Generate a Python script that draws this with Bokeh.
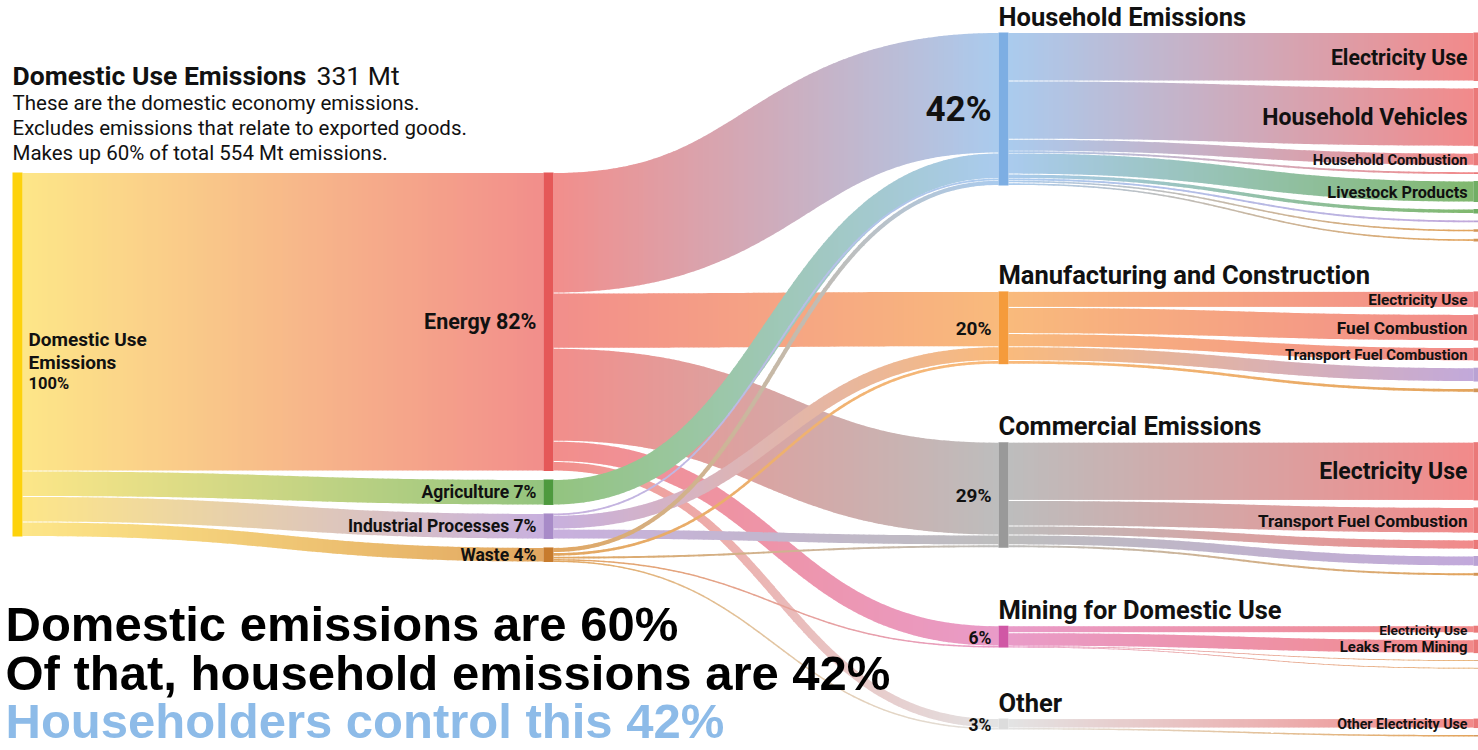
import numpy as np
from bokeh.plotting import figure
from bokeh.models import Range1d
from bokeh.embed import file_html
from bokeh.resources import INLINE
from bokeh.core.properties import value

# ---------------- data (percent of domestic-use emissions) ----------------
root_label = ["Domestic Use", "Emissions"]
root_mt = 331
root_pct = 100

sectors = ["Energy", "Agriculture", "Industrial Processes", "Waste"]
sector_pct = [82, 7, 7, 4]

destinations = ["Household Emissions", "Manufacturing and Construction",
                "Commercial Emissions", "Mining for Domestic Use", "Other"]
dest_pct = [42, 20, 29, 6, 3]

# sector -> destination flows (same order as destinations)
flow_energy = [33.1, 15.2, 25.5, 5.6, 2.6]
flow_agriculture = [7.0, 0.0, 0.0, 0.0, 0.0]
flow_industrial = [0.5, 3.8, 2.7, 0.0, 0.0]
flow_waste = [1.4, 1.0, 0.8, 0.4, 0.4]
flows = [flow_energy, flow_agriculture, flow_industrial, flow_waste]

# destination -> end use leaves
leaf_dest = [0, 0, 0, 0, 0, 0, 0, 0, 0,
             1, 1, 1, 1, 1,
             2, 2, 2, 2, 2,
             3, 3, 3, 3,
             4, 4]
leaf_sector = [0, 0, 0, 0, 1, 1, 2, 3, 3,
               0, 0, 0, 2, 3,
               0, 0, 0, 2, 3,
               0, 0, 3, 3,
               0, 3]
leaf_label = ["Electricity Use", "Household Vehicles", "Household Combustion", "",
              "Livestock Products", "", "", "", "",
              "Electricity Use", "Fuel Combustion", "Transport Fuel Combustion", "", "",
              "Electricity Use", "Transport Fuel Combustion", "", "", "",
              "Electricity Use", "Leaks From Mining", "", "",
              "Other Electricity Use", ""]
leaf_value = [13.3, 16.0, 3.3, 0.5, 5.8, 1.2, 0.5, 0.7, 0.7,
              4.4, 7.2, 3.6, 3.8, 1.0,
              16.0, 7.0, 2.5, 2.7, 0.8,
              1.9, 3.7, 0.2, 0.2,
              2.6, 0.4]

header_title = "Domestic Use Emissions"
header_value = f"{root_mt} Mt"
header_lines = ["These are the domestic economy emissions.",
                "Excludes emissions that relate to exported goods.",
                "Makes up 60% of total 554 Mt emissions."]
headline_lines = ["Domestic emissions are 60%",
                  "Of that, household emissions are 42%",
                  "Householders control this 42%"]

# ---------------- layout / style ----------------
W, H = 1478, 750
SCALE = 3.64          # px per percent
BAR = 10
X_COL = [12, 543, 998]
X_LEAF = 1473
LEAF_BAR = 5
TOP0 = 172
GAP1 = 8.5
TOP2 = 32
LEAF_GAP = 7
TITLE_SPACE = 50
STEP = 5
INSET = 0.5           # thin white seam between neighbouring bands

root_bar, root_link = "#FDD20C", "#FDE688"
sector_bar = ["#E55858", "#4E9A3E", "#A88BC8", "#C77B2D"]
sector_link = ["#F28E8B", "#93C47F", "#C8B0DE", "#E2A761"]
leaf_link = ["#F28A8A", "#80B86E", "#C2A9DB", "#E3A45C"]
dest_bar = ["#7DAEE3", "#F59B3B", "#999999", "#D057A5", "#DCDCDC"]
dest_link = ["#AACBEE", "#F9BA7C", "#BDBDBD", "#E99BC8", "#E3E3E3"]
TXT = "#111111"
FONT = value("Roboto")


def hex2rgb(h):
    h = h.lstrip("#")
    return np.array([int(h[i:i + 2], 16) for i in (0, 2, 4)], dtype=float)


def rgb2hex(c):
    c = np.clip(np.round(c), 0, 255).astype(int)
    return "#%02x%02x%02x" % tuple(c)


xs_all, ys_all, col_all = [], [], []


def add_ribbon(xa, ya0, ya1, xb, yb0, yb1, ca, cb):
    w = ya1 - ya0
    if w <= 0:
        return
    if w > 2.5:
        w -= 2 * INSET
    ca, cb = hex2rgb(ca), hex2rgb(cb)
    yca, ycb = (ya0 + ya1) / 2, (yb0 + yb1) / 2
    t = np.linspace(0, 1, 800)
    xm = (xa + xb) / 2
    bx = (1 - t) ** 3 * xa + 3 * (1 - t) ** 2 * t * xm + 3 * (1 - t) * t ** 2 * xm + t ** 3 * xb
    by = yca + (ycb - yca) * (3 * t ** 2 - 2 * t ** 3)
    dx, dy = np.gradient(bx, t), np.gradient(by, t)
    n = np.hypot(dx, dy)
    nx, ny = -dy / n, dx / n
    h = w / 2
    ux, uy = bx - h * nx, by - h * ny
    lx, ly = bx + h * nx, by + h * ny
    ux = np.maximum.accumulate(ux)
    lx = np.maximum.accumulate(lx)
    grid = np.unique(np.r_[np.arange(xa, xb, STEP), xb]).astype(float)
    yu = np.interp(grid, ux, uy)
    yl = np.interp(grid, lx, ly)
    top, bot = np.minimum(yu, yl), np.maximum(yu, yl)
    last = len(grid) - 2
    for k in range(len(grid) - 1):
        f = ((grid[k] + grid[k + 1]) / 2 - xa) / (xb - xa)
        x0, x1 = grid[k], grid[k + 1]
        t1, b1 = top[k + 1], bot[k + 1]
        if k < last:  # slight overlap with the next slice to avoid seams
            ext = 0.8
            st = (top[k + 1] - top[k]) / (x1 - x0)
            sb = (bot[k + 1] - bot[k]) / (x1 - x0)
            x1, t1, b1 = x1 + ext, t1 + st * ext, b1 + sb * ext
        xs_all.append([x0, x1, x1, x0])
        ys_all.append([top[k], t1, b1, bot[k]])
        col_all.append(rgb2hex(ca + (cb - ca) * f))


# node positions
root_y0 = TOP0
root_y1 = TOP0 + root_pct * SCALE
sec_y0 = []
y = TOP0
for v in sector_pct:
    sec_y0.append(y)
    y += v * SCALE + GAP1

dest_y0 = []
leaf_y0 = [0.0] * len(leaf_value)
y = TOP2
for j in range(len(destinations)):
    dest_y0.append(y)
    ly = y
    for k in range(len(leaf_value)):
        if leaf_dest[k] == j:
            leaf_y0[k] = ly
            ly += leaf_value[k] * SCALE + LEAF_GAP
    y = ly - LEAF_GAP + TITLE_SPACE

# links: root -> sectors
off = root_y0
for i, v in enumerate(sector_pct):
    w = v * SCALE
    add_ribbon(X_COL[0] + BAR, off, off + w, X_COL[1], sec_y0[i], sec_y0[i] + w,
               root_link, sector_link[i])
    off += w

# links: sectors -> destinations
src_off = list(sec_y0)
dst_off = list(dest_y0)
for i in range(len(sectors)):
    for j in range(len(destinations)):
        v = flows[i][j]
        if v <= 0:
            continue
        w = v * SCALE
        add_ribbon(X_COL[1] + BAR, src_off[i], src_off[i] + w,
                   X_COL[2], dst_off[j], dst_off[j] + w,
                   sector_link[i], dest_link[j])
        src_off[i] += w
        dst_off[j] += w

# links: destinations -> leaves
d_off = list(dest_y0)
for k, v in enumerate(leaf_value):
    j = leaf_dest[k]
    w = v * SCALE
    add_ribbon(X_COL[2] + BAR, d_off[j], d_off[j] + w, X_LEAF, leaf_y0[k], leaf_y0[k] + w,
               dest_link[j], leaf_link[leaf_sector[k]])
    d_off[j] += w

# ---------------- figure ----------------
p = figure(width=W, height=H, x_range=Range1d(0, W), y_range=Range1d(H, 0),
           output_backend="svg", toolbar_location=None, min_border=0,
           x_axis_type=None, y_axis_type=None)
p.grid.visible = False
p.outline_line_color = None
p.background_fill_color = "white"
p.border_fill_color = "white"

p.patches(xs_all, ys_all, fill_color=col_all, fill_alpha=1.0, line_color=None)

# node bars
p.quad(left=[X_COL[0]], right=[X_COL[0] + BAR], top=[root_y0], bottom=[root_y1],
       fill_color=root_bar, line_color=None)
p.quad(left=[X_COL[1]] * len(sectors), right=[X_COL[1] + BAR] * len(sectors),
       top=sec_y0, bottom=[sec_y0[i] + sector_pct[i] * SCALE for i in range(len(sectors))],
       fill_color=sector_bar, line_color=None)
p.quad(left=[X_COL[2]] * len(destinations), right=[X_COL[2] + BAR] * len(destinations),
       top=dest_y0, bottom=[dest_y0[j] + dest_pct[j] * SCALE for j in range(len(destinations))],
       fill_color=dest_bar, line_color=None)
p.quad(left=[X_LEAF] * len(leaf_value), right=[X_LEAF + LEAF_BAR] * len(leaf_value),
       top=leaf_y0, bottom=[leaf_y0[k] + leaf_value[k] * SCALE for k in range(len(leaf_value))],
       fill_color=[sector_bar[s] for s in leaf_sector], fill_alpha=0.8, line_color=None)

# root label
rc = (root_y0 + root_y1) / 2
p.text(x=[X_COL[0] + BAR + 6] * 2, y=[rc - 15, rc + 8], text=root_label,
       text_font=FONT, text_font_style="bold", text_font_size="19px",
       text_color=TXT, text_baseline="middle", text_align="left")
p.text(x=[X_COL[0] + BAR + 6], y=[rc + 29], text=[f"{root_pct}%"],
       text_font=FONT, text_font_style="bold", text_font_size="16.5px",
       text_color=TXT, text_baseline="middle", text_align="left")

# sector labels
for i, s in enumerate(sectors):
    c = sec_y0[i] + sector_pct[i] * SCALE / 2
    fs = "21.5px" if sector_pct[i] > 50 else "17.5px"
    p.text(x=[X_COL[1] - 7], y=[c], text=[f"{s} {sector_pct[i]}%"],
           text_font=FONT, text_font_style="bold", text_font_size=fs,
           text_color=TXT, text_baseline="middle", text_align="right")

# destination titles and percentages
for j, d in enumerate(destinations):
    c = dest_y0[j] + dest_pct[j] * SCALE / 2
    fs = "35px" if dest_pct[j] >= 40 else ("19px" if dest_pct[j] >= 10 else "17.5px")
    p.text(x=[X_COL[2] - 7], y=[c + 1], text=[f"{dest_pct[j]}%"],
           text_font=FONT, text_font_style="bold", text_font_size=fs,
           text_color=TXT, text_baseline="middle", text_align="right")
    p.text(x=[X_COL[2]], y=[dest_y0[j] - 16], text=[d],
           text_font=FONT, text_font_style="bold", text_font_size="25.5px",
           text_color=TXT, text_baseline="middle", text_align="left")

# leaf labels (size follows band thickness)
for k, lab in enumerate(leaf_label):
    if not lab:
        continue
    hgt = leaf_value[k] * SCALE
    fs = float(np.clip(12.5 + 0.18 * hgt, 13, 23))
    p.text(x=[X_LEAF - 6], y=[leaf_y0[k] + hgt / 2 + 0.5], text=[lab],
           text_font=FONT, text_font_style="bold", text_font_size=f"{fs:.1f}px",
           text_color=TXT, text_baseline="middle", text_align="right")

# header block
p.text(x=[12], y=[75], text=[header_title], text_font=FONT, text_font_style="bold",
       text_font_size="26.5px", text_color=TXT, text_baseline="middle")
p.text(x=[316], y=[75], text=[header_value], text_font=FONT, text_font_style="normal",
       text_font_size="26.5px", text_color=TXT, text_baseline="middle")
p.text(x=[12] * 3, y=[102, 127, 152], text=header_lines, text_font=FONT,
       text_font_size="20.5px", text_color=TXT, text_baseline="middle")

# headline block
p.text(x=[5, 5], y=[623, 672], text=headline_lines[:2], text_font=value("Liberation Sans"),
       text_font_style="bold", text_font_size="49px", text_color="#000000",
       text_baseline="middle")
p.text(x=[5], y=[720], text=headline_lines[2:], text_font=value("Liberation Sans"),
       text_font_style="bold", text_font_size="49px", text_color="#8DBBE8",
       text_baseline="middle")

open("out.html", "w").write(file_html(p, INLINE))
